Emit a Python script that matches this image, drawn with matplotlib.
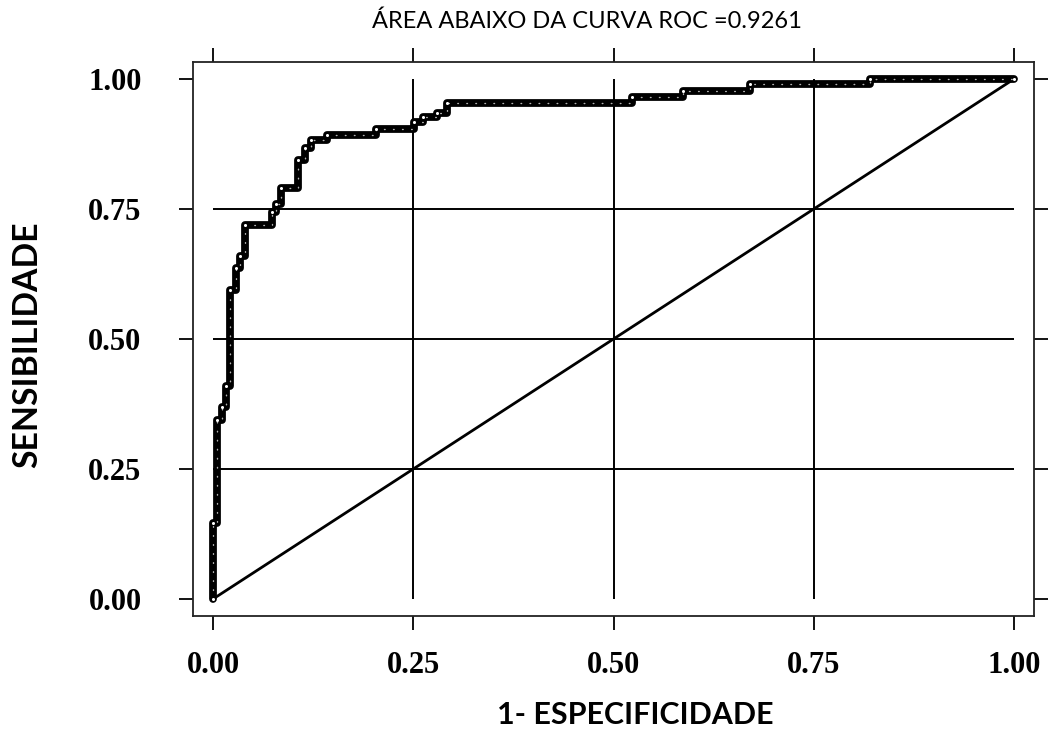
import matplotlib
matplotlib.use("Agg")
import matplotlib.pyplot as plt

# ROC curve vertices (upper-left corners of each step)
fpr = [0.0, 0.0, 0.005, 0.011, 0.016, 0.021, 0.029, 0.034, 0.040, 0.074, 0.079,
       0.085, 0.106, 0.115, 0.122, 0.142, 0.204, 0.251, 0.262, 0.280, 0.292,
       0.523, 0.587, 0.671, 0.820, 1.0]
tpr = [0.0, 0.146, 0.344, 0.369, 0.410, 0.594, 0.637, 0.660, 0.720, 0.745, 0.760,
       0.790, 0.845, 0.867, 0.883, 0.892, 0.904, 0.917, 0.927, 0.935, 0.954,
       0.965, 0.977, 0.990, 1.0, 1.0]
ref_line = [0.0, 1.0]
ticks = [0.0, 0.25, 0.50, 0.75, 1.00]
tick_labels = ["0.00", "0.25", "0.50", "0.75", "1.00"]
grid_pos = [0.25, 0.50, 0.75]

title = "ÁREA ABAIXO DA CURVA ROC =0.9261"
xlabel = "1- ESPECIFICIDADE"
ylabel = "SENSIBILIDADE"

W, H = 1052, 746
fig = plt.figure(figsize=(W / 100, H / 100), dpi=100)
L, R, T, B = 193, 1034, 62, 616
ax = fig.add_axes([L / W, 1 - B / H, (R - L) / W, (B - T) / H])
ax.set_xlim(-0.025, 1.025)
ax.set_ylim(-0.0327, 1.0327)

# grid lines only across data range
ax.hlines(grid_pos, 0, 1, colors="black", linewidth=1.4, zorder=1)
ax.vlines(grid_pos, 0, 1, colors="black", linewidth=1.4, zorder=1)

# diagonal reference
ax.plot(ref_line, ref_line, color="black", linewidth=2.0, zorder=2)

# ROC curve (chain of open circles look)
ax.plot(fpr, tpr, drawstyle="steps-post", color="black", linewidth=5.6,
        solid_capstyle="round", solid_joinstyle="round", zorder=3)
ax.plot(fpr, tpr, drawstyle="steps-post", color="white", linewidth=1.0,
        linestyle=(0, (0.5, 6)), dash_capstyle="round", alpha=0.7, zorder=4)
ax.plot(fpr, tpr, linestyle="none", marker="o", markersize=2.2,
        markerfacecolor="white", markeredgewidth=0, zorder=5)

ax.set_xticks(ticks)
ax.set_yticks(ticks)
ax.set_xticklabels(tick_labels)
ax.set_yticklabels(tick_labels)
for lab in ax.get_xticklabels() + ax.get_yticklabels():
    lab.set_family("Liberation Serif")
    lab.set_fontweight("bold")
    lab.set_fontsize(22)
ax.tick_params(direction="out", length=10, width=1.3, top=True, right=True,
               color="black")
ax.tick_params(axis="x", pad=15)
ax.tick_params(axis="y", pad=27)
for sp in ax.spines.values():
    sp.set_linewidth(1.3)
    sp.set_color("#222222")

t_title = fig.text(587 / W, 1 - 21 / H, title, ha="center", va="center",
                   family="Lato", fontsize=14)
t_x = fig.text(635 / W, 1 - 715 / H, xlabel, ha="center", va="center",
               family="Lato", fontweight="bold", fontsize=20)
t_y = fig.text(27 / W, 1 - 345 / H, ylabel, ha="center", va="center",
               family="Lato", fontweight="bold", fontsize=20, rotation=90)

# fit text widths to the reference
fig.canvas.draw()
r = fig.canvas.get_renderer()
for t, target, horiz in [(t_title, 431, True), (t_x, 276, True), (t_y, 246, False)]:
    bb = t.get_window_extent(renderer=r)
    cur = bb.width if horiz else bb.height
    t.set_fontsize(t.get_fontsize() * target / cur)

fig.savefig("out.png", dpi=100)
